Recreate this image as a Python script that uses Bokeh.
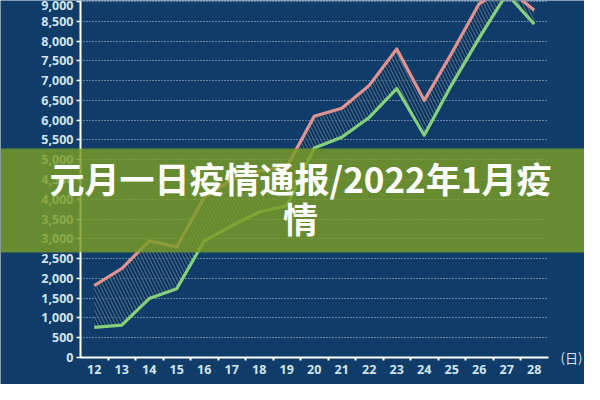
from bokeh.plotting import figure
from bokeh.models import Range1d, FixedTicker, NumeralTickFormatter, Label, BoxAnnotation, Grid
from bokeh.embed import file_html
from bokeh.resources import INLINE

# ---- data ----
days = list(range(12, 29))
upper = [1820, 2250, 2950, 2800, 4050, 4500, 4720, 4820, 6100, 6300, 6880, 7800, 6500, 7700, 8950, 9350, 8780]
lower = [760, 820, 1490, 1740, 2950, 3330, 3680, 3840, 5300, 5570, 6070, 6800, 5620, 6900, 8080, 9200, 8430]
y_ticks = list(range(0, 9001, 500))
title_line1 = "元月一日疫情通报/2022年1月疫"
title_line2 = "情"
x_unit = "(日)"

BG = "#0f3c68"
TXT = "#d3e4ef"

W, H = 584, 384
PX_PER_DAY = 27.5
PX_PER_UNIT = 0.03955
X0_PX, Y0_PX = 80, 357           # canvas position of (11.5, 0)
x_start = 11.5 - X0_PX / PX_PER_DAY
x_end = 11.5 + (W - X0_PX) / PX_PER_DAY
y_start = -(H - Y0_PX) / PX_PER_UNIT
y_end = Y0_PX / PX_PER_UNIT

p = figure(width=W, height=H, output_backend="svg", toolbar_location=None,
           x_range=Range1d(x_start, x_end), y_range=Range1d(y_start, y_end),
           min_border=0, min_border_left=0, min_border_right=0,
           min_border_top=0, min_border_bottom=0,
           background_fill_color=BG, border_fill_color=BG, outline_line_color=None)

# hatched band between the two series
p.varea(x=days, y1=lower, y2=upper, fill_color="#0a2a4e", fill_alpha=0.55,
        hatch_pattern="\\", hatch_color="#a4c0d8", hatch_alpha=0.5,
        hatch_scale=7, hatch_weight=1)

p.line(days, upper, line_color="#e3938f", line_width=3.2, line_join="round")
p.line(days, lower, line_color="#86d07c", line_width=3.2, line_join="round")

# grid
p.xgrid.visible = False
ygrid = p.ygrid[0]
ygrid.ticker = FixedTicker(ticks=y_ticks)
ygrid.grid_line_color = "white"
ygrid.grid_line_alpha = 0.75
ygrid.grid_line_dash = "1 2"
ygrid.grid_line_width = 1
if "cross_bounds" in Grid.properties():
    ygrid.cross_bounds = (11.5, 28.5)
    ygrid.bounds = (0, 9000)

# y axis (fixed inside the full-canvas frame)
yax = p.yaxis[0]
yax.fixed_location = 11.5
yax.bounds = (0, y_end)
yax.ticker = FixedTicker(ticks=y_ticks)
yax.formatter = NumeralTickFormatter(format="0,0")
yax.axis_line_color = "white"
yax.axis_line_width = 2
yax.major_tick_line_color = "white"
yax.major_tick_line_width = 1.5
yax.major_tick_out = 4
yax.major_tick_in = 0
yax.minor_tick_line_color = None
yax.major_label_standoff = 3
yax.major_label_text_color = TXT
yax.major_label_text_font = "Open Sans"
yax.major_label_text_font_style = "bold"
yax.major_label_text_font_size = "12.5px"

# x axis
xax = p.xaxis[0]
xax.fixed_location = 0
xax.bounds = (11.5, 28.5)
xax.ticker = FixedTicker(ticks=days, minor_ticks=[d + 0.5 for d in days[:-1]])
xax.axis_line_color = "white"
xax.axis_line_width = 2
xax.major_tick_line_color = None
xax.major_tick_out = 0
xax.major_tick_in = 0
xax.minor_tick_line_color = "white"
xax.minor_tick_line_width = 2
xax.minor_tick_out = 3
xax.minor_tick_in = 0
xax.major_label_standoff = 4
xax.major_label_text_color = TXT
xax.major_label_text_font = "Open Sans"
xax.major_label_text_font_style = "bold"
xax.major_label_text_font_size = "12.5px"

p.add_layout(Label(x=571, y=357, x_units="canvas", y_units="canvas", text=x_unit,
                   text_align="center", text_baseline="middle",
                   text_color=TXT, text_font="Noto Sans CJK SC", text_font_size="13px",
                   level="overlay"))

# green banner with title
p.add_layout(BoxAnnotation(left=0, right=W, top=148, bottom=252,
                           left_units="canvas", right_units="canvas",
                           top_units="canvas", bottom_units="canvas",
                           fill_color="#7a9c25", fill_alpha=0.82, line_color=None, level="overlay"))
p.add_layout(Label(x=300, y=177, x_units="canvas", y_units="canvas", text=title_line1,
                   text_align="center", text_baseline="middle",
                   text_color="white", text_font="Noto Sans CJK SC", text_font_style="bold",
                   text_font_size="35px", level="overlay"))
p.add_layout(Label(x=300, y=217, x_units="canvas", y_units="canvas", text=title_line2,
                   text_align="center", text_baseline="middle",
                   text_color="white", text_font="Noto Sans CJK SC", text_font_style="bold",
                   text_font_size="35px", level="overlay"))

html = file_html(p, INLINE).replace("<body>", '<body style="background-color:%s;">' % BG, 1)
open("out.html", "w").write(html)
